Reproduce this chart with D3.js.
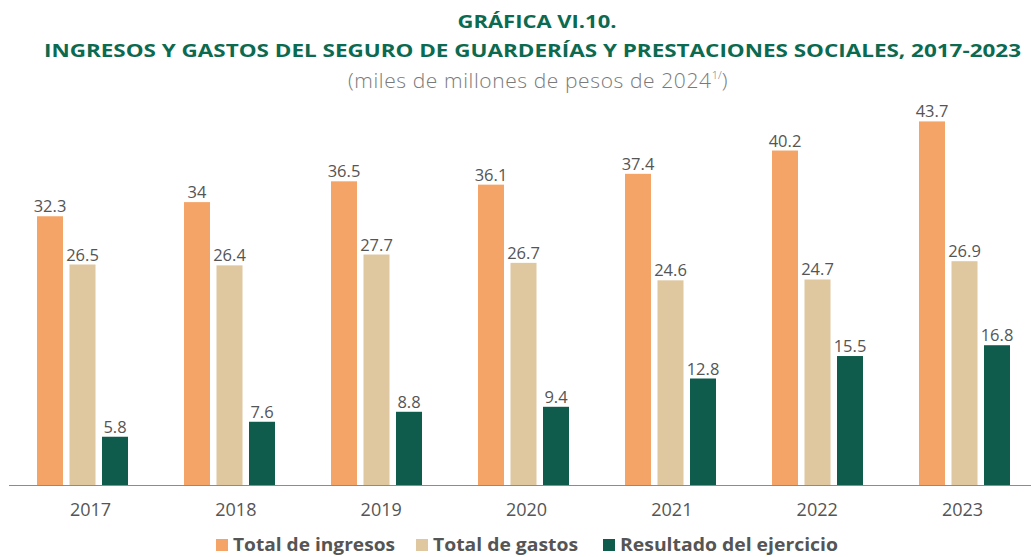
<!DOCTYPE html>
<html>
<head>
<meta charset="utf-8">
<script src="https://cdn.jsdelivr.net/npm/d3@7"></script>
<style>
	html, body { margin: 0; padding: 0; background: #ffffff; }
	svg text { font-family: "Open Sans", "Noto Sans", sans-serif; }
</style>
</head>
<body>
<div id="chart"></div>
<script>
// chart data (miles de millones de pesos de 2024)
var years = ["2017", "2018", "2019", "2020", "2021", "2022", "2023"];
var seriesNames = ["Total de ingresos", "Total de gastos", "Resultado del ejercicio"];
var ingresos = [32.3, 34, 36.5, 36.1, 37.4, 40.2, 43.7];
var gastos = [26.5, 26.4, 27.7, 26.7, 24.6, 24.7, 26.9];
var resultado = [5.8, 7.6, 8.8, 9.4, 12.8, 15.5, 16.8];
var seriesColors = ["#F4A466", "#DFC8A0", "#0F5C4C"];

var width = 1031, height = 557;
var baseY = 485;

var svg = d3.select("#chart").append("svg")
	.attr("width", width)
	.attr("height", height);

// titles
svg.append("text")
	.attr("x", 537).attr("y", 28)
	.attr("text-anchor", "middle")
	.attr("fill", "#0B6A50")
	.attr("font-weight", 700)
	.attr("font-size", 18.5)
	.attr("textLength", 159)
	.attr("lengthAdjust", "spacingAndGlyphs")
	.text("GRÁFICA VI.10.");

svg.append("text")
	.attr("x", 532.5).attr("y", 57)
	.attr("text-anchor", "middle")
	.attr("fill", "#0B6A50")
	.attr("font-weight", 700)
	.attr("font-size", 18.5)
	.attr("textLength", 977)
	.attr("lengthAdjust", "spacingAndGlyphs")
	.text("INGRESOS Y GASTOS DEL SEGURO DE GUARDERÍAS Y PRESTACIONES SOCIALES, 2017-2023");

var sub = svg.append("text")
	.attr("x", 538).attr("y", 88)
	.attr("text-anchor", "middle")
	.attr("fill", "#7a7a7a")
	.attr("font-weight", 300)
	.attr("font-size", 21)
	.attr("letter-spacing", 0.6);
sub.append("tspan").text("(miles de millones de pesos de 2024");
sub.append("tspan").attr("font-size", 11).attr("dy", -9).attr("letter-spacing", 0).text("1/");
sub.append("tspan").attr("dy", 9).text(")");

// scales
var x0 = d3.scaleBand()
	.domain(years)
	.range([9, 9 + 147 * years.length])
	.padding(0);

var x1 = d3.scaleBand()
	.domain(d3.range(seriesNames.length))
	.range([28, 119])
	.paddingInner(0.2)
	.paddingOuter(0);

var y = d3.scaleLinear()
	.domain([0, 50])
	.range([baseY, baseY - 416]);

var xLabel = d3.scalePoint()
	.domain(years)
	.range([90, 962]);

var rows = years.map(function(yr, i) {
	return {year: yr, values: [ingresos[i], gastos[i], resultado[i]]};
});

var groups = svg.selectAll("g.group")
	.data(rows)
	.enter().append("g")
	.attr("class", "group")
	.attr("transform", function(d) { return "translate(" + x0(d.year) + ",0)"; });

groups.selectAll("rect")
	.data(function(d) { return d.values; })
	.enter().append("rect")
	.attr("x", function(d, i) { return x1(i); })
	.attr("y", function(d) { return y(d); })
	.attr("width", x1.bandwidth())
	.attr("height", function(d) { return baseY - y(d); })
	.attr("fill", function(d, i) { return seriesColors[i]; });

groups.selectAll("text.val")
	.data(function(d) { return d.values; })
	.enter().append("text")
	.attr("class", "val")
	.attr("x", function(d, i) { return x1(i) + x1.bandwidth() / 2; })
	.attr("y", function(d) { return y(d) - 4; })
	.attr("text-anchor", "middle")
	.attr("fill", "#555555")
	.attr("font-size", 16.5)
	.text(function(d) { return d; });

// x axis
var axis = svg.append("g")
	.attr("transform", "translate(0," + baseY + ")")
	.call(d3.axisBottom(xLabel).tickSize(0).tickPadding(18));
axis.select(".domain").remove();
axis.selectAll("text")
	.attr("fill", "#555555")
	.attr("font-size", 18)
	.style("font-family", "'Open Sans', sans-serif");

svg.append("line")
	.attr("x1", 9).attr("x2", width)
	.attr("y1", baseY + 0.5).attr("y2", baseY + 0.5)
	.attr("stroke", "#8c8c8c")
	.attr("stroke-width", 1.2);

// legend
var legendX = [216, 416, 603];
var legendW = [162, 145, 218];
var legend = svg.selectAll("g.legend")
	.data(seriesNames)
	.enter().append("g")
	.attr("class", "legend")
	.attr("transform", function(d, i) { return "translate(" + legendX[i] + ",539)"; });

legend.append("rect")
	.attr("width", 12).attr("height", 12)
	.attr("fill", function(d, i) { return seriesColors[i]; });

legend.append("text")
	.attr("x", 17).attr("y", 12)
	.attr("fill", "#555555")
	.attr("font-weight", 700)
	.attr("font-size", 17)
	.attr("textLength", function(d, i) { return legendW[i]; })
	.attr("lengthAdjust", "spacingAndGlyphs")
	.text(function(d) { return d; });
</script>
</body>
</html>
